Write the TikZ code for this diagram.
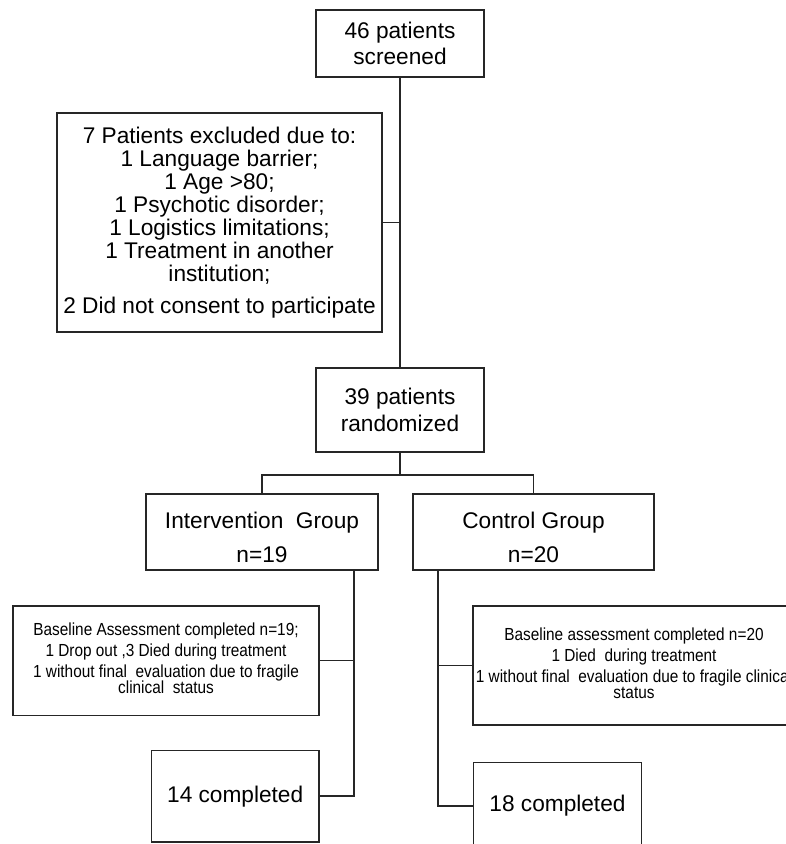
\documentclass[tikz,border=0pt]{standalone}
\usepackage{fontspec}
\setmainfont{Liberation Sans}
\newfontfamily\smallf[FakeStretch=0.88]{Liberation Sans}
\newcommand{\tightls}{\lineskiplimit -100pt\relax}
\begin{document}
\begin{tikzpicture}[x=0.75pt,y=-0.75pt,
  box/.style={draw=black!85, line width=1.2pt, rectangle, inner sep=0pt, align=center},
  bigtxt/.style={font=\fontsize{17}{#1}\selectfont\tightls},
  smalltxt/.style={font=\smallf\fontsize{13.1}{12}\selectfont\tightls},
  conn/.style={draw=black!85, line width=1.2pt}]
\useasboundingbox (0,0) rectangle (786,844);
\clip (0,0) rectangle (786,844);

\node[box, bigtxt=19.5pt, minimum width=126pt, minimum height=50.25pt] (top) at (400,43.5) {46 patients\\screened};

\node[box, bigtxt=17.3pt, minimum width=243.75pt, minimum height=164.25pt] (excl) at (219.5,222.5)
  {7 Patients excluded due to:\\1 Language barrier;\\1 Age >80;\\1 Psychotic disorder;\\1 Logistics limitations;\\1 Treatment in another\\institution;\\[6.5pt]2 Did not consent to participate};

\node[box, bigtxt=20.25pt, minimum width=126pt, minimum height=63pt] (rand) at (400,410) {39 patients\\randomized};

\node[box, bigtxt=25.5pt, minimum width=174pt, minimum height=57pt] (interv) at (262,532) {\rule{0pt}{20pt}Intervention\ \ Group\\n=19};
\node[box, bigtxt=25.5pt, minimum width=180.75pt, minimum height=57pt] (control) at (533.5,532) {\rule{0pt}{20pt}Control Group\\n=20};

\node[box, smalltxt, minimum width=229.5pt, minimum height=82.2pt] (base1) at (166,660.5)
  {Baseline Assessment completed n=19;\\[3.5pt]1 Drop out ,3 Died during treatment\\[4.2pt]1 without final\ \ evaluation due to fragile\\clinical\ \ status\rule[-3pt]{0pt}{1pt}};
\node[box, smalltxt, minimum width=241.5pt, minimum height=89.5pt] (base2) at (634,665.4)
  {Baseline assessment completed n=20\\[3.5pt]1 Died\ \ during treatment\\[4.2pt]1 without final\ \ evaluation due to fragile clinical\\status\rule[-3pt]{0pt}{1pt}};

\node[box, bigtxt=20pt, minimum width=125.7pt, minimum height=68.3pt] (c14) at (235.2,796.2) {14 completed};
\node[box, bigtxt=20pt, minimum width=125.85pt, minimum height=65.25pt] (c18) at (557.5,806) {18 completed};

\coordinate (split) at (400,475);
\coordinate (ib) at (354,570);
\coordinate (cb) at (438,570);

\draw[conn] (top.south) -- (rand.north);
\draw[conn] (excl.east) -- (excl.east -| top.south);
\draw[conn] (rand.south) -- (split);
\draw[conn] (interv.north) |- (split) -| (control.north);
\draw[conn] (ib) |- (c14.east);
\draw[conn] (base1.east) -- (base1.east -| ib);
\draw[conn] (cb) |- (c18.west);
\draw[conn] (cb |- base2.west) -- (base2.west);
\end{tikzpicture}
\end{document}
